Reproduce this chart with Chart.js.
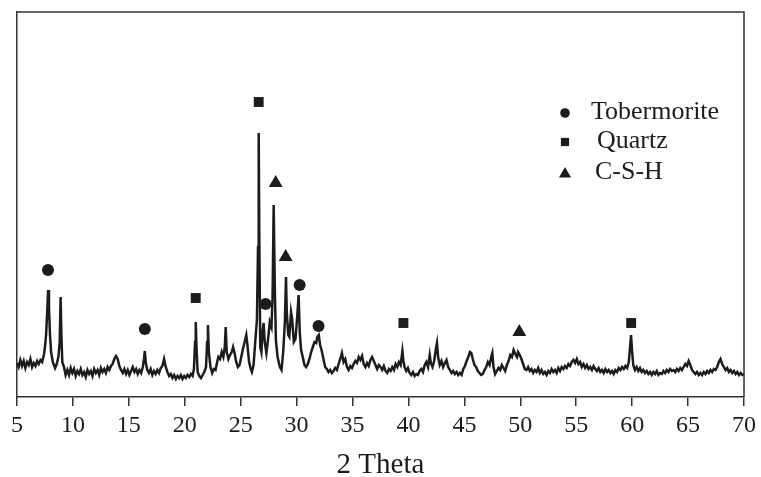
<!DOCTYPE html>
<html>
<head>
<meta charset="utf-8">
<script src="https://cdn.jsdelivr.net/npm/chart.js@4.4.1/dist/chart.umd.min.js"></script>
<style>
  html, body { margin: 0; padding: 0; background: #fff; }
  #wrap { width: 761px; height: 477px; }
</style>
</head>
<body>
<div id="wrap"><canvas id="xrd"></canvas></div>
<script>
// XRD pattern, [2 theta, intensity] (intensity in arbitrary units)
const pattern = [
  [5.0,34],[5.15,30],[5.3,37],[5.45,31],[5.6,36],[5.75,29],[5.9,35],[6.05,32],[6.2,38],[6.35,30],
  [6.5,34],[6.65,31],[6.8,36],[6.95,33],[7.1,37],[7.25,35],[7.4,42],[7.5,50],[7.6,62],[7.7,85],
  [7.78,107],[7.86,90],[7.95,62],[8.05,45],[8.2,35],[8.4,29],[8.55,33],[8.7,40],[8.82,55],[8.9,100],
  [8.97,62],[9.05,35],[9.2,30],[9.35,22],[9.5,27],[9.65,22],[9.8,29],[9.95,24],[10.1,28],[10.25,21],
  [10.4,26],[10.55,23],[10.7,28],[10.85,22],[11.0,25],[11.15,20],[11.3,27],[11.45,23],[11.6,26],[11.75,21],
  [11.9,28],[12.05,24],[12.2,27],[12.35,22],[12.5,29],[12.65,25],[12.8,28],[12.95,24],[13.1,30],[13.25,27],
  [13.4,31],[13.55,33],[13.7,38],[13.85,41],[14.0,38],[14.15,31],[14.3,27],[14.45,24],[14.6,28],[14.75,23],
  [14.9,27],[15.05,22],[15.2,26],[15.35,30],[15.5,25],[15.65,28],[15.8,23],[15.95,27],[16.1,24],[16.25,30],
  [16.35,38],[16.43,46],[16.52,34],[16.65,27],[16.8,24],[16.95,28],[17.1,22],[17.25,26],[17.4,23],[17.55,27],
  [17.7,24],[17.85,29],[18.0,31],[18.15,38],[18.3,30],[18.45,25],[18.6,21],[18.75,23],[18.9,19],[19.05,22],
  [19.2,18],[19.35,21],[19.5,19],[19.65,22],[19.8,18],[19.95,21],[20.1,19],[20.25,22],[20.4,20],[20.55,23],
  [20.7,21],[20.82,28],[20.92,55],[20.98,75],[21.05,50],[21.15,25],[21.3,21],[21.45,19],[21.6,22],[21.75,25],
  [21.9,30],[22.0,55],[22.07,72],[22.15,45],[22.3,30],[22.45,24],[22.6,28],[22.75,27],[22.9,35],[23.0,40],
  [23.15,38],[23.3,45],[23.45,40],[23.58,50],[23.66,70],[23.75,45],[23.9,38],[24.05,42],[24.2,45],[24.32,50],
  [24.45,44],[24.6,35],[24.75,30],[24.9,32],[25.05,40],[25.2,48],[25.35,55],[25.5,62],[25.62,50],[25.75,35],
  [25.9,28],[26.0,25],[26.15,32],[26.3,55],[26.45,77],[26.55,150],[26.61,264],[26.67,150],[26.75,50],[26.85,45],
  [26.95,65],[27.05,74],[27.15,55],[27.3,44],[27.45,58],[27.6,75],[27.75,70],[27.85,100],[27.95,192],[28.05,110],
  [28.15,56],[28.3,40],[28.5,30],[28.65,27],[28.8,45],[28.95,75],[29.05,120],[29.12,85],[29.25,62],[29.35,60],
  [29.5,85],[29.6,78],[29.75,55],[29.9,58],[30.05,80],[30.18,102],[30.28,65],[30.4,47],[30.55,40],[30.7,32],
  [30.85,30],[31.0,33],[31.15,38],[31.3,45],[31.45,50],[31.6,55],[31.75,54],[31.85,60],[31.98,62],[32.1,52],
  [32.25,46],[32.4,38],[32.55,30],[32.7,28],[32.85,25],[33.0,27],[33.15,24],[33.3,26],[33.45,29],[33.6,27],
  [33.75,33],[33.9,38],[34.05,44],[34.2,35],[34.35,38],[34.5,30],[34.65,27],[34.8,31],[34.95,29],[35.1,33],
  [35.25,36],[35.4,34],[35.55,40],[35.7,37],[35.85,41],[36.0,33],[36.15,30],[36.3,34],[36.45,31],[36.6,37],
  [36.75,40],[36.9,36],[37.05,32],[37.2,28],[37.35,32],[37.5,30],[37.65,27],[37.8,31],[37.95,26],[38.1,24],
  [38.25,28],[38.4,26],[38.55,30],[38.7,27],[38.85,33],[39.0,30],[39.15,35],[39.3,32],[39.46,46],[39.55,36],
  [39.65,30],[39.8,26],[39.95,29],[40.1,24],[40.25,22],[40.4,25],[40.55,21],[40.7,23],[40.85,22],[41.0,26],
  [41.15,28],[41.3,25],[41.45,32],[41.6,35],[41.75,30],[41.9,42],[42.0,34],[42.15,30],[42.3,36],[42.45,48],
  [42.55,54],[42.65,40],[42.8,32],[42.95,36],[43.1,30],[43.25,34],[43.4,37],[43.55,30],[43.7,27],[43.85,24],
  [44.0,26],[44.15,23],[44.3,25],[44.45,22],[44.6,24],[44.75,22],[44.9,28],[45.05,31],[45.2,36],[45.35,40],
  [45.5,45],[45.62,44],[45.75,38],[45.9,32],[46.05,30],[46.2,26],[46.35,24],[46.5,22],[46.65,23],[46.8,27],
  [46.95,30],[47.1,35],[47.25,32],[47.4,40],[47.5,44],[47.6,30],[47.75,23],[47.9,26],[48.05,29],[48.2,27],
  [48.35,32],[48.5,29],[48.65,26],[48.8,32],[48.95,36],[49.1,42],[49.25,40],[49.4,47],[49.55,43],[49.7,40],
  [49.8,45],[49.95,42],[50.1,38],[50.25,33],[50.4,28],[50.55,27],[50.7,30],[50.85,26],[51.0,28],[51.15,24],
  [51.3,27],[51.45,25],[51.6,29],[51.75,24],[51.9,27],[52.05,23],[52.2,25],[52.35,22],[52.5,26],[52.65,24],
  [52.8,28],[52.95,25],[53.1,27],[53.25,24],[53.4,29],[53.55,26],[53.7,30],[53.85,28],[54.0,31],[54.15,29],
  [54.3,33],[54.45,31],[54.6,35],[54.75,37],[54.9,34],[55.05,38],[55.2,33],[55.35,35],[55.5,30],[55.65,33],
  [55.8,29],[55.95,32],[56.1,28],[56.25,30],[56.4,27],[56.55,31],[56.7,28],[56.85,26],[57.0,29],[57.15,25],
  [57.3,27],[57.45,24],[57.6,28],[57.75,25],[57.9,27],[58.05,24],[58.2,26],[58.35,23],[58.5,27],[58.65,25],
  [58.8,29],[58.95,27],[59.1,30],[59.25,28],[59.4,31],[59.55,29],[59.7,35],[59.8,48],[59.9,62],[60.0,45],
  [60.1,32],[60.25,27],[60.4,30],[60.55,26],[60.7,29],[60.85,25],[61.0,27],[61.15,24],[61.3,26],[61.45,23],
  [61.6,25],[61.75,22],[61.9,25],[62.05,23],[62.2,26],[62.35,22],[62.5,24],[62.65,23],[62.8,26],[62.95,24],
  [63.1,27],[63.25,25],[63.4,28],[63.55,26],[63.7,27],[63.85,25],[64.0,28],[64.15,26],[64.3,29],[64.45,27],
  [64.6,30],[64.75,33],[64.9,31],[65.05,36],[65.2,32],[65.35,27],[65.5,25],[65.65,23],[65.8,25],[65.95,22],
  [66.1,24],[66.25,22],[66.4,25],[66.55,23],[66.7,26],[66.85,24],[67.0,27],[67.15,25],[67.3,28],[67.45,27],
  [67.6,30],[67.75,35],[67.9,38],[68.05,33],[68.2,30],[68.35,27],[68.5,29],[68.65,25],[68.8,27],[68.95,24],
  [69.1,26],[69.25,23],[69.4,25],[69.55,22],[69.7,24],[69.85,22],[70.0,23]
];

// phase marks above the peaks
const tobermorite = [[7.77,127],[16.43,68],[27.23,93],[30.27,112],[31.96,71]];
const quartz = [[20.98,99],[26.61,295],[39.55,74],[59.91,74]];
const csh = [[28.13,214],[29.02,140],[49.91,65]];

const xTicks = [5, 10, 15, 20, 25, 30, 35, 40, 45, 50, 55, 60, 65, 70];

const serif = "'Liberation Serif', 'Times New Roman', serif";
const ink = '#1c1c1c';

const toXY = arr => arr.map(p => ({ x: p[0], y: p[1] }));

// box round the plot + legend drawn inside the area
const framePlugin = {
  id: 'frame',
  afterDraw(chart) {
    const { ctx, chartArea: a } = chart;
    ctx.save();
    ctx.strokeStyle = '#333';
    ctx.lineWidth = 1.5;
    ctx.beginPath();
    ctx.moveTo(a.left, a.top);
    ctx.lineTo(a.right, a.top);
    ctx.lineTo(a.right, a.bottom);
    ctx.stroke();

    const items = [
      { ds: 1, r: 4.8, y: 113, tx: 591 },
      { ds: 2, r: 5.8, y: 142, tx: 597 },
      { ds: 3, r: 7, y: 174, tx: 595 }
    ];
    ctx.fillStyle = ink;
    ctx.font = '26px ' + serif;
    ctx.textBaseline = 'middle';
    items.forEach(it => {
      const d = chart.data.datasets[it.ds];
      Chart.helpers.drawPoint(ctx, { pointStyle: d.pointStyle, radius: it.r, rotation: 0, borderWidth: 0 }, 565, it.y);
      ctx.fillText(d.label, it.tx, it.y - 1 - (it.ds === 3 ? 1 : 0));
    });
    ctx.restore();
  }
};

new Chart(document.getElementById('xrd'), {
  type: 'line',
  data: {
    datasets: [
      {
        label: 'pattern',
        data: toXY(pattern),
        borderColor: ink,
        borderWidth: 2.5,
        pointRadius: 0,
        tension: 0
      },
      {
        type: 'scatter',
        label: 'Tobermorite',
        data: toXY(tobermorite),
        pointStyle: 'circle',
        pointRadius: 6,
        backgroundColor: ink,
        borderWidth: 0
      },
      {
        type: 'scatter',
        label: 'Quartz',
        data: toXY(quartz),
        pointStyle: 'rect',
        pointRadius: 7,
        backgroundColor: ink,
        borderWidth: 0
      },
      {
        type: 'scatter',
        label: 'C-S-H',
        data: toXY(csh),
        pointStyle: 'triangle',
        pointRadius: 8,
        backgroundColor: ink,
        borderWidth: 0
      }
    ]
  },
  options: {
    responsive: true,
    maintainAspectRatio: false,
    animation: false,
    layout: { padding: { left: 17, right: 16, top: 12, bottom: 0 } },
    plugins: {
      legend: { display: false },
      tooltip: { enabled: false }
    },
    scales: {
      x: {
        type: 'linear',
        min: 5,
        max: 70,
        afterBuildTicks: s => { s.ticks = xTicks.map(v => ({ value: v })); },
        afterFit: s => { s.height = 80; },
        ticks: {
          color: ink,
          padding: 5,
          maxRotation: 0,
          autoSkip: false,
          font: { family: serif, size: 24 }
        },
        grid: { drawOnChartArea: false, drawTicks: true, tickLength: 9, color: '#333', lineWidth: 1.5 },
        border: { display: true, color: '#333', width: 1.5 },
        title: {
          display: true,
          text: '2 Theta',
          color: ink,
          padding: 0,
          font: { family: serif, size: 29, lineHeight: 0.78 }
        }
      },
      y: {
        min: 0,
        max: 385,
        afterFit: s => { s.width = 0; },
        ticks: { display: false },
        grid: { drawOnChartArea: false, drawTicks: false },
        border: { display: true, color: '#333', width: 1.5 }
      }
    }
  },
  plugins: [framePlugin]
});
</script>
</body>
</html>
